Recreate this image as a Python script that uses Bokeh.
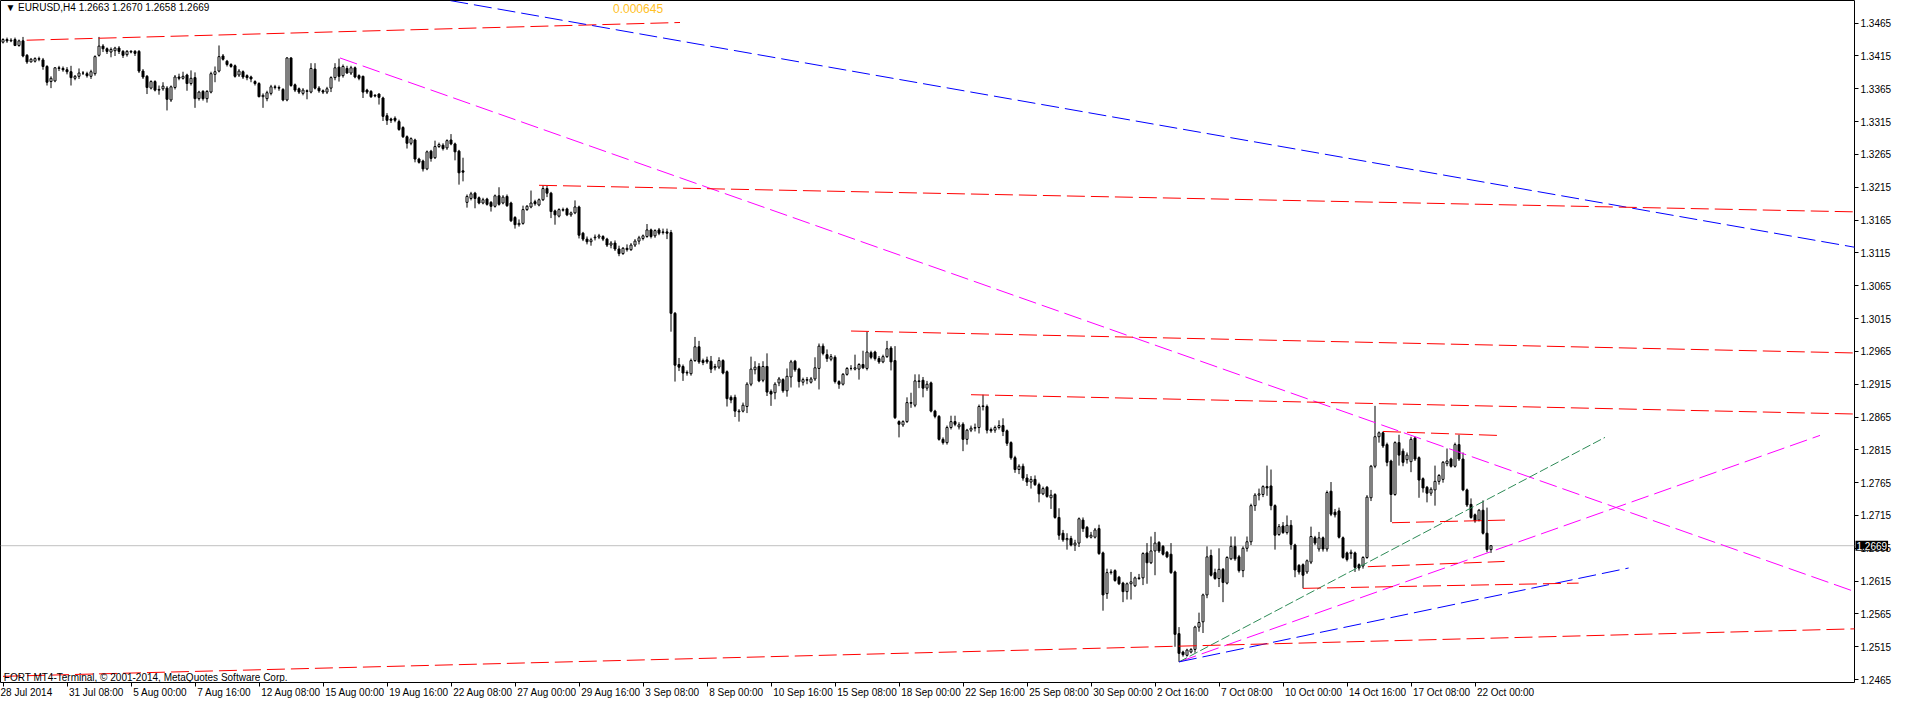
import numpy as np
from bokeh.plotting import figure
from bokeh.models import (Range1d, LinearAxis, FixedTicker, NumeralTickFormatter,
                          Label, Span, ColumnDataSource)
from bokeh.embed import file_html
from bokeh.resources import INLINE

# ---------------- EURUSD H4 candles (bar index 0 = first visible bar) ----------------
opens = [
 1.3436,1.3440,1.3438,1.3440,1.3431,1.3438,1.3416,1.3406,1.3407,1.3411,
 1.3409,1.3399,1.3376,1.3377,1.3397,1.3396,1.3394,1.3391,1.3381,1.3384,
 1.3389,1.3388,1.3384,1.3388,1.3416,1.3430,1.3426,1.3421,1.3423,1.3427,
 1.3422,1.3417,1.3422,1.3422,1.3422,1.3392,1.3384,1.3366,1.3376,1.3363,
 1.3365,1.3366,1.3348,1.3367,1.3383,1.3381,1.3386,1.3373,1.3382,1.3350,
 1.3361,1.3350,1.3360,1.3387,1.3392,1.3415,1.3407,1.3402,1.3400,1.3386,
 1.3391,1.3385,1.3383,1.3376,1.3373,1.3353,1.3350,1.3358,1.3368,1.3367,
 1.3364,1.3348,1.3412,1.3371,1.3365,1.3358,1.3362,1.3360,1.3395,1.3366,
 1.3362,1.3360,1.3366,1.3382,1.3398,1.3385,1.3396,1.3389,1.3397,1.3385,
 1.3384,1.3363,1.3361,1.3355,1.3357,1.3351,1.3324,1.3319,1.3320,1.3315,
 1.3306,1.3292,1.3282,1.3287,1.3258,1.3255,1.3243,1.3270,1.3260,1.3277,
 1.3279,1.3275,1.3287,1.3281,1.3270,1.3240,1.3192,1.3198,1.3206,1.3199,
 1.3191,1.3197,1.3192,1.3186,1.3202,1.3191,1.3201,1.3191,1.3169,1.3158,
 1.3160,1.3181,1.3185,1.3193,1.3188,1.3196,1.3213,1.3206,1.3179,1.3171,
 1.3180,1.3182,1.3173,1.3176,1.3185,1.3145,1.3136,1.3132,1.3138,1.3139,
 1.3140,1.3136,1.3127,1.3130,1.3121,1.3114,1.3122,1.3120,1.3127,1.3133,
 1.3137,1.3140,1.3150,1.3141,1.3150,1.3146,1.3147,1.3146,1.3023,1.2945,
 1.2942,1.2933,1.2931,1.2951,1.2972,1.2951,1.2952,1.2950,1.2940,1.2941,
 1.2951,1.2934,1.2895,1.2895,1.2873,1.2874,1.2881,1.2915,1.2937,1.2942,
 1.2921,1.2942,1.2904,1.2902,1.2917,1.2922,1.2905,1.2926,1.2950,1.2938,
 1.2918,1.2921,1.2918,1.2923,1.2939,1.2973,1.2960,1.2953,1.2956,1.2919,
 1.2915,1.2930,1.2939,1.2938,1.2938,1.2945,1.2939,1.2963,1.2964,1.2954,
 1.2949,1.2957,1.2970,1.2951,1.2858,1.2853,1.2858,1.2887,1.2883,1.2920,
 1.2921,1.2909,1.2917,1.2874,1.2866,1.2831,1.2826,1.2849,1.2858,1.2850,
 1.2854,1.2831,1.2845,1.2848,1.2849,1.2881,1.2881,1.2846,1.2845,1.2849,
 1.2852,1.2844,1.2826,1.2803,1.2785,1.2790,1.2772,1.2766,1.2770,1.2762,
 1.2748,1.2758,1.2742,1.2747,1.2712,1.2688,1.2678,1.2680,1.2670,1.2673,
 1.2708,1.2697,1.2682,1.2682,1.2695,1.2658,1.2596,1.2628,1.2631,1.2621,
 1.2612,1.2599,1.2611,1.2608,1.2619,1.2620,1.2658,1.2643,1.2661,1.2674,
 1.2668,1.2659,1.2656,1.2629,1.2535,1.2507,1.2502,1.2507,1.2511,1.2545,
 1.2553,1.2594,1.2654,1.2628,1.2619,1.2633,1.2612,1.2649,1.2668,1.2652,
 1.2631,1.2665,1.2675,1.2730,1.2746,1.2747,1.2759,1.2760,1.2730,1.2686,
 1.2699,1.2689,1.2700,1.2670,1.2639,1.2640,1.2629,1.2644,1.2681,1.2664,
 1.2681,1.2664,1.2752,1.2720,1.2722,1.2681,1.2658,1.2657,1.2658,1.2640,
 1.2638,1.2651,1.2742,1.2790,1.2835,1.2841,1.2823,1.2798,1.2747,1.2826,
 1.2813,1.2800,1.2797,1.2833,1.2803,1.2771,1.2758,1.2749,1.2754,1.2767,
 1.2770,1.2794,1.2801,1.2790,1.2823,1.2801,1.2754,1.2732,1.2716,1.2708,
 1.2723,1.2688,1.2663]
highs = [
 1.3442,1.3443,1.3442,1.3443,1.3440,1.3444,1.3418,1.3412,1.3413,1.3414,
 1.3412,1.3401,1.3384,1.3398,1.3400,1.3399,1.3398,1.3400,1.3386,1.3396,
 1.3392,1.3391,1.3394,1.3416,1.3444,1.3433,1.3428,1.3428,1.3429,1.3430,
 1.3424,1.3424,1.3424,1.3424,1.3424,1.3395,1.3386,1.3378,1.3378,1.3370,
 1.3375,1.3369,1.3370,1.3386,1.3388,1.3391,1.3388,1.3393,1.3390,1.3362,
 1.3363,1.3363,1.3391,1.3399,1.3431,1.3418,1.3409,1.3404,1.3402,1.3395,
 1.3393,1.3387,1.3385,1.3378,1.3375,1.3358,1.3362,1.3371,1.3371,1.3370,
 1.3366,1.3413,1.3413,1.3373,1.3367,1.3366,1.3364,1.3404,1.3404,1.3369,
 1.3364,1.3368,1.3384,1.3404,1.3411,1.3402,1.3400,1.3400,1.3399,1.3387,
 1.3385,1.3365,1.3363,1.3357,1.3358,1.3353,1.3328,1.3321,1.3323,1.3318,
 1.3308,1.3294,1.3291,1.3289,1.3260,1.3257,1.3271,1.3272,1.3286,1.3283,
 1.3282,1.3288,1.3296,1.3283,1.3272,1.3260,1.3204,1.3208,1.3208,1.3201,
 1.3199,1.3199,1.3194,1.3204,1.3215,1.3203,1.3204,1.3193,1.3171,1.3166,
 1.3187,1.3188,1.3210,1.3196,1.3198,1.3218,1.3217,1.3208,1.3181,1.3183,
 1.3184,1.3184,1.3178,1.3195,1.3187,1.3147,1.3140,1.3138,1.3143,1.3144,
 1.3142,1.3138,1.3133,1.3134,1.3126,1.3124,1.3128,1.3130,1.3136,1.3141,
 1.3143,1.3159,1.3152,1.3151,1.3153,1.3152,1.3152,1.3150,1.3025,1.2955,
 1.2945,1.2936,1.2954,1.2987,1.2981,1.2954,1.2957,1.2958,1.2946,1.2956,
 1.2953,1.2936,1.2898,1.2899,1.2877,1.2887,1.2918,1.2957,1.2950,1.2947,
 1.2950,1.2962,1.2907,1.2918,1.2926,1.2924,1.2939,1.2952,1.2952,1.2940,
 1.2925,1.2926,1.2926,1.2956,1.2977,1.2977,1.2968,1.2961,1.2959,1.2921,
 1.2932,1.2941,1.2944,1.2960,1.2947,1.2966,1.2995,1.2966,1.2966,1.2958,
 1.2960,1.2981,1.2973,1.2973,1.2860,1.2860,1.2895,1.2902,1.2930,1.2930,
 1.2926,1.2920,1.2919,1.2876,1.2868,1.2834,1.2852,1.2867,1.2867,1.2857,
 1.2857,1.2847,1.2852,1.2855,1.2884,1.2899,1.2884,1.2849,1.2852,1.2860,
 1.2863,1.2846,1.2828,1.2806,1.2793,1.2794,1.2778,1.2775,1.2776,1.2765,
 1.2759,1.2760,1.2754,1.2749,1.2726,1.2693,1.2688,1.2684,1.2678,1.2712,
 1.2712,1.2699,1.2690,1.2696,1.2701,1.2660,1.2634,1.2633,1.2633,1.2623,
 1.2614,1.2613,1.2629,1.2622,1.2626,1.2659,1.2673,1.2683,1.2690,1.2676,
 1.2670,1.2661,1.2673,1.2631,1.2545,1.2509,1.2512,1.2513,1.2547,1.2567,
 1.2596,1.2668,1.2663,1.2634,1.2665,1.2635,1.2653,1.2683,1.2683,1.2655,
 1.2668,1.2683,1.2733,1.2749,1.2756,1.2761,1.2791,1.2785,1.2732,1.2702,
 1.2705,1.2715,1.2708,1.2672,1.2641,1.2642,1.2648,1.2698,1.2684,1.2690,
 1.2683,1.2753,1.2766,1.2725,1.2727,1.2683,1.2660,1.2663,1.2660,1.2642,
 1.2653,1.2746,1.2792,1.2882,1.2843,1.2843,1.2826,1.2800,1.2828,1.2838,
 1.2817,1.2811,1.2835,1.2835,1.2805,1.2773,1.2760,1.2758,1.2791,1.2778,
 1.2798,1.2817,1.2803,1.2826,1.2838,1.2811,1.2756,1.2741,1.2718,1.2725,
 1.2738,1.2727,1.2670]
lows = [
 1.3434,1.3435,1.3436,1.3430,1.3429,1.3413,1.3403,1.3405,1.3405,1.3407,
 1.3394,1.3370,1.3366,1.3375,1.3392,1.3391,1.3387,1.3370,1.3378,1.3380,
 1.3386,1.3382,1.3380,1.3385,1.3414,1.3421,1.3418,1.3413,1.3415,1.3418,
 1.3412,1.3414,1.3419,1.3415,1.3389,1.3380,1.3357,1.3364,1.3361,1.3356,
 1.3362,1.3332,1.3345,1.3364,1.3378,1.3379,1.3362,1.3370,1.3336,1.3347,
 1.3347,1.3344,1.3358,1.3375,1.3390,1.3408,1.3399,1.3397,1.3382,1.3383,
 1.3380,1.3378,1.3375,1.3370,1.3352,1.3336,1.3346,1.3355,1.3364,1.3362,
 1.3346,1.3346,1.3368,1.3360,1.3357,1.3355,1.3349,1.3358,1.3364,1.3359,
 1.3357,1.3357,1.3360,1.3378,1.3376,1.3382,1.3388,1.3386,1.3381,1.3378,
 1.3351,1.3357,1.3351,1.3352,1.3341,1.3316,1.3310,1.3313,1.3314,1.3301,
 1.3290,1.3274,1.3279,1.3253,1.3251,1.3239,1.3241,1.3254,1.3258,1.3275,
 1.3271,1.3272,1.3279,1.3256,1.3219,1.3224,1.3184,1.3195,1.3183,1.3189,
 1.3189,1.3187,1.3178,1.3184,1.3187,1.3189,1.3185,1.3162,1.3152,1.3155,
 1.3158,1.3179,1.3183,1.3187,1.3186,1.3194,1.3200,1.3168,1.3158,1.3169,
 1.3178,1.3171,1.3170,1.3174,1.3137,1.3133,1.3128,1.3126,1.3134,1.3136,
 1.3133,1.3124,1.3122,1.3118,1.3110,1.3112,1.3117,1.3118,1.3124,1.3128,
 1.3134,1.3138,1.3137,1.3138,1.3142,1.3143,1.3136,1.2995,1.2919,1.2935,
 1.2920,1.2928,1.2928,1.2949,1.2946,1.2944,1.2946,1.2932,1.2936,1.2938,
 1.2930,1.2881,1.2886,1.2865,1.2858,1.2872,1.2871,1.2912,1.2930,1.2918,
 1.2918,1.2897,1.2882,1.2892,1.2912,1.2902,1.2896,1.2910,1.2934,1.2910,
 1.2913,1.2915,1.2916,1.2920,1.2907,1.2959,1.2949,1.2950,1.2916,1.2908,
 1.2913,1.2928,1.2936,1.2936,1.2922,1.2938,1.2936,1.2953,1.2951,1.2946,
 1.2947,1.2955,1.2936,1.2862,1.2834,1.2850,1.2856,1.2879,1.2880,1.2909,
 1.2895,1.2905,1.2872,1.2863,1.2829,1.2823,1.2823,1.2846,1.2851,1.2846,
 1.2813,1.2823,1.2842,1.2843,1.2840,1.2875,1.2840,1.2841,1.2841,1.2846,
 1.2836,1.2821,1.2800,1.2780,1.2778,1.2768,1.2760,1.2756,1.2760,1.2735,
 1.2746,1.2742,1.2725,1.2710,1.2678,1.2675,1.2663,1.2668,1.2661,1.2667,
 1.2690,1.2680,1.2680,1.2680,1.2655,1.2570,1.2588,1.2625,1.2614,1.2609,
 1.2583,1.2587,1.2587,1.2606,1.2617,1.2609,1.2611,1.2641,1.2624,1.2658,
 1.2654,1.2650,1.2626,1.2515,1.2492,1.2500,1.2500,1.2505,1.2506,1.2538,
 1.2536,1.2589,1.2622,1.2617,1.2606,1.2583,1.2610,1.2647,1.2646,1.2628,
 1.2621,1.2660,1.2670,1.2722,1.2738,1.2743,1.2745,1.2723,1.2663,1.2684,
 1.2687,1.2686,1.2663,1.2621,1.2625,1.2604,1.2626,1.2641,1.2670,1.2660,
 1.2660,1.2660,1.2714,1.2712,1.2680,1.2649,1.2645,1.2649,1.2629,1.2631,
 1.2634,1.2649,1.2737,1.2787,1.2826,1.2818,1.2790,1.2705,1.2745,1.2791,
 1.2790,1.2794,1.2781,1.2798,1.2742,1.2750,1.2735,1.2745,1.2730,1.2762,
 1.2765,1.2790,1.2788,1.2788,1.2798,1.2752,1.2728,1.2710,1.2704,1.2706,
 1.2686,1.2659,1.2658]
closes = [
 1.3440,1.3438,1.3439,1.3431,1.3438,1.3415,1.3406,1.3410,1.3411,1.3410,
 1.3399,1.3375,1.3381,1.3397,1.3396,1.3394,1.3391,1.3382,1.3384,1.3389,
 1.3389,1.3385,1.3391,1.3414,1.3430,1.3426,1.3422,1.3425,1.3427,1.3422,
 1.3416,1.3422,1.3421,1.3419,1.3392,1.3383,1.3367,1.3376,1.3363,1.3364,
 1.3369,1.3349,1.3368,1.3383,1.3381,1.3384,1.3373,1.3381,1.3350,1.3360,
 1.3350,1.3361,1.3388,1.3391,1.3414,1.3410,1.3402,1.3399,1.3384,1.3392,
 1.3383,1.3382,1.3380,1.3373,1.3353,1.3355,1.3359,1.3368,1.3367,1.3366,
 1.3348,1.3412,1.3370,1.3363,1.3360,1.3363,1.3361,1.3396,1.3366,1.3362,
 1.3360,1.3365,1.3382,1.3397,1.3384,1.3399,1.3389,1.3397,1.3383,1.3381,
 1.3360,1.3360,1.3353,1.3354,1.3352,1.3323,1.3317,1.3317,1.3317,1.3303,
 1.3292,1.3282,1.3289,1.3258,1.3253,1.3243,1.3269,1.3259,1.3277,1.3280,
 1.3274,1.3286,1.3281,1.3269,1.3237,1.3238,1.3201,1.3205,1.3198,1.3191,
 1.3196,1.3189,1.3186,1.3202,1.3189,1.3200,1.3187,1.3164,1.3158,1.3160,
 1.3181,1.3186,1.3191,1.3190,1.3196,1.3213,1.3206,1.3178,1.3173,1.3181,
 1.3181,1.3173,1.3176,1.3185,1.3142,1.3136,1.3132,1.3135,1.3139,1.3141,
 1.3136,1.3127,1.3130,1.3121,1.3114,1.3122,1.3120,1.3127,1.3133,1.3138,
 1.3141,1.3150,1.3140,1.3149,1.3145,1.3147,1.3145,1.3023,1.2944,1.2941,
 1.2932,1.2932,1.2951,1.2972,1.2949,1.2948,1.2949,1.2938,1.2942,1.2951,
 1.2932,1.2893,1.2891,1.2874,1.2874,1.2883,1.2915,1.2938,1.2941,1.2920,
 1.2942,1.2903,1.2900,1.2915,1.2923,1.2905,1.2927,1.2949,1.2937,1.2919,
 1.2922,1.2922,1.2923,1.2940,1.2973,1.2962,1.2954,1.2957,1.2919,1.2915,
 1.2930,1.2939,1.2939,1.2940,1.2945,1.2940,1.2964,1.2956,1.2954,1.2949,
 1.2957,1.2969,1.2949,1.2864,1.2854,1.2858,1.2887,1.2886,1.2920,1.2919,
 1.2909,1.2915,1.2874,1.2866,1.2831,1.2826,1.2849,1.2858,1.2854,1.2853,
 1.2831,1.2845,1.2848,1.2849,1.2881,1.2882,1.2845,1.2844,1.2849,1.2852,
 1.2843,1.2825,1.2803,1.2785,1.2790,1.2772,1.2766,1.2770,1.2762,1.2748,
 1.2756,1.2744,1.2746,1.2712,1.2685,1.2678,1.2680,1.2670,1.2673,1.2710,
 1.2695,1.2682,1.2685,1.2693,1.2657,1.2594,1.2628,1.2629,1.2616,1.2611,
 1.2599,1.2611,1.2614,1.2620,1.2620,1.2657,1.2643,1.2661,1.2673,1.2661,
 1.2656,1.2652,1.2628,1.2534,1.2505,1.2503,1.2510,1.2511,1.2545,1.2552,
 1.2594,1.2652,1.2624,1.2619,1.2633,1.2613,1.2651,1.2668,1.2649,1.2631,
 1.2665,1.2675,1.2730,1.2746,1.2748,1.2759,1.2757,1.2730,1.2685,1.2698,
 1.2689,1.2700,1.2671,1.2632,1.2629,1.2624,1.2646,1.2683,1.2673,1.2681,
 1.2664,1.2750,1.2717,1.2716,1.2682,1.2651,1.2648,1.2659,1.2636,1.2635,
 1.2651,1.2743,1.2790,1.2835,1.2841,1.2821,1.2796,1.2747,1.2826,1.2807,
 1.2796,1.2807,1.2831,1.2801,1.2769,1.2757,1.2749,1.2755,1.2767,1.2776,
 1.2796,1.2798,1.2790,1.2823,1.2801,1.2754,1.2731,1.2712,1.2707,1.2723,
 1.2688,1.2663,1.2669]

# ---------------- axis ticks ----------------
price_ticks = [1.2465, 1.2515, 1.2565, 1.2615, 1.2665, 1.2715, 1.2765, 1.2815,
               1.2865, 1.2915, 1.2965, 1.3015, 1.3065, 1.3115, 1.3165, 1.3215,
               1.3265, 1.3315, 1.3365, 1.3415, 1.3465]
date_tick_bars = [0, 16, 32, 48, 64, 80, 96, 112, 128, 144, 160, 176,
                  192, 208, 224, 240, 256, 272, 288, 304, 320, 336, 352, 368]
date_tick_labels = ["28 Jul 2014", "31 Jul 08:00", "5 Aug 00:00", "7 Aug 16:00",
                    "12 Aug 08:00", "15 Aug 00:00", "19 Aug 16:00", "22 Aug 08:00",
                    "27 Aug 00:00", "29 Aug 16:00", "3 Sep 08:00", "8 Sep 00:00",
                    "10 Sep 16:00", "15 Sep 08:00", "18 Sep 00:00", "22 Sep 16:00",
                    "25 Sep 08:00", "30 Sep 00:00", "2 Oct 16:00", "7 Oct 08:00",
                    "10 Oct 00:00", "14 Oct 16:00", "17 Oct 08:00", "22 Oct 00:00"]

# ---------------- drawn objects (bar index, price) ----------------
tl_x0 = [5.9, 100.0, 84.25, 294.0, 294.0, 294.0, 134.0, 212.0, 242.0, 0.0,
         345.0, 347.25, 341.2, 325.0]
tl_y0 = [1.3439, 1.3512, 1.3412, 1.2492, 1.2492, 1.2492, 1.3218, 1.2996, 1.2899, 1.2470,
         1.2843, 1.2704, 1.2637, 1.2604]
tl_x1 = [169.25, 467.25, 465.75, 454.25, 400.5, 406.4, 467.25, 467.25, 467.25, 467.25,
         373.5, 375.5, 375.4, 393.9]
tl_y1 = [1.3466, 1.3119, 1.2593, 1.2837, 1.2834, 1.2635, 1.3177, 1.2962, 1.2869, 1.2543,
         1.2837, 1.2708, 1.2645, 1.2612]
tl_color = ["#FF0000", "#0000FF", "#FF00FF", "#FF00FF", "#2E8B57", "#0000FF",
            "#FF0000", "#FF0000", "#FF0000", "#FF0000",
            "#FF0000", "#FF0000", "#FF0000", "#FF0000"]
tl_dash = ["18 6", "18 6", "18 6", "18 6", "9 3", "18 6",
           "18 6", "18 6", "18 6", "18 6", "18 6", "18 6", "18 6", "18 6"]

fib_value_text = "0.000645"
fib_text_pos = (152.5, 1.3487)

# ---------------- figure ----------------
PX_PER_BAR = 4.0
FIG_W, FIG_H = 1894, 710
RIGHT_PANEL = 40
frame_w = FIG_W - RIGHT_PANEL
x_start = -0.625
x_end = x_start + frame_w / PX_PER_BAR

p = figure(width=FIG_W, height=FIG_H, output_backend="svg", toolbar_location=None,
           x_range=Range1d(x_start, x_end), y_range=Range1d(1.24606, 1.34995),
           x_axis_location=None, y_axis_location=None,
           min_border_left=0, min_border_top=0, min_border_right=RIGHT_PANEL,
           min_border_bottom=0)
p.grid.visible = False
p.outline_line_color = "black"
p.outline_line_width = 1
p.background_fill_color = "white"
p.border_fill_color = "white"

FONT = "Liberation Sans"

# right price axis
yax = LinearAxis(ticker=FixedTicker(ticks=price_ticks),
                 formatter=NumeralTickFormatter(format="0.0000"))
yax.axis_line_color = None
yax.major_tick_out = 4
yax.major_tick_in = 0
yax.minor_tick_out = 0
yax.minor_tick_in = 0
yax.major_label_standoff = 2
yax.major_label_text_font = FONT
yax.major_label_text_font_size = "10px"
yax.major_label_text_color = "black"
p.add_layout(yax, "right")

# bottom time axis: tick at the bar, text starting just right of the tick
cw = {'0': 556, '1': 556, '2': 556, '3': 556, '4': 556, '5': 556, '6': 556, '7': 556,
      '8': 556, '9': 556, ' ': 278, ':': 278, 'J': 500, 'u': 556, 'l': 222, 'A': 667,
      'g': 556, 'S': 667, 'e': 556, 'p': 556, 'O': 778, 'c': 500, 't': 278}
def text_w(s, size=10.0):
    return sum(cw.get(ch, 556) for ch in s) * size / 1000.0

NBSP = "\u00a0"
def left_aligned(t, first):
    if first:          # the first label is pushed inside the canvas by Bokeh itself
        return t
    n = int(round((text_w(t) + 5.0) / 2.78))
    return NBSP * n + t

xax = LinearAxis(ticker=FixedTicker(ticks=date_tick_bars))
xax.axis_line_color = None
xax.major_tick_out = 4
xax.major_tick_in = 0
xax.minor_tick_out = 0
xax.minor_tick_in = 0
xax.major_label_standoff = 0
xax.major_label_text_font = FONT
xax.major_label_text_font_size = "10px"
xax.major_label_text_color = "black"
xax.major_label_overrides = {b: left_aligned(t, k == 0)
                             for k, (b, t) in enumerate(zip(date_tick_bars, date_tick_labels))}
p.add_layout(xax, "below")

# current bid line
p.add_layout(Span(location=closes[-1], dimension="width", line_color="#C0C0C0",
                  line_width=1, level="underlay"))

# candles
o = np.array(opens); h = np.array(highs); l = np.array(lows); c = np.array(closes)
idx = np.arange(len(c))
up = c >= o
top = np.maximum(o, c)
bot = np.minimum(o, c)
p.segment(x0=idx, y0=l, x1=idx, y1=h, line_color="black", line_width=1)
src_up = ColumnDataSource(dict(x=idx[up], top=top[up], bottom=bot[up]))
src_dn = ColumnDataSource(dict(x=idx[~up], top=top[~up], bottom=bot[~up]))
p.vbar(x="x", top="top", bottom="bottom", width=0.5, source=src_up,
       fill_color="white", line_color="black", line_width=1)
p.vbar(x="x", top="top", bottom="bottom", width=0.5, source=src_dn,
       fill_color="black", line_color="black", line_width=1)

# trend lines
for x0, y0, x1, y1, col, dash in zip(tl_x0, tl_y0, tl_x1, tl_y1, tl_color, tl_dash):
    p.segment(x0=[x0], y0=[y0], x1=[x1], y1=[y1], line_color=col,
              line_dash=dash, line_width=1)

# texts
header = "\u25BC EURUSD,H4  %.4f %.4f %.4f %.4f" % (opens[-1], highs[-1], lows[-1], closes[-1])
p.add_layout(Label(x=0.6, y=1.34886, text=header, text_font=FONT, text_font_size="10px",
                   text_baseline="middle", text_align="left", text_color="black"))
p.add_layout(Label(x=fib_text_pos[0], y=fib_text_pos[1], text=fib_value_text, text_font=FONT,
                   text_font_size="12px", text_baseline="middle", text_align="left",
                   text_color="#FFC125"))
p.add_layout(Label(x=0.2, y=1.24681,
                   text="FORT MT4-Terminal, \u00a9 2001-2014, MetaQuotes Software Corp.",
                   text_font=FONT, text_font_size="10px", text_baseline="middle",
                   text_align="left", text_color="black"))

# price tag on the axis (side-panel annotation so it is not clipped to the frame)
tag_kw = dict(x=x_end + 0.25, y=closes[-1], x_units="data", y_units="data",
              text="%.4f" % closes[-1], text_font=FONT,
              text_font_size="10px", text_baseline="middle", text_align="left",
              text_color="white", background_fill_color="black",
              background_fill_alpha=1.0)
try:
    tag = Label(padding=1, **tag_kw)
except Exception:
    tag = Label(**tag_kw)
p.add_layout(tag, "below")

open("out.html", "w").write(file_html(p, INLINE))
